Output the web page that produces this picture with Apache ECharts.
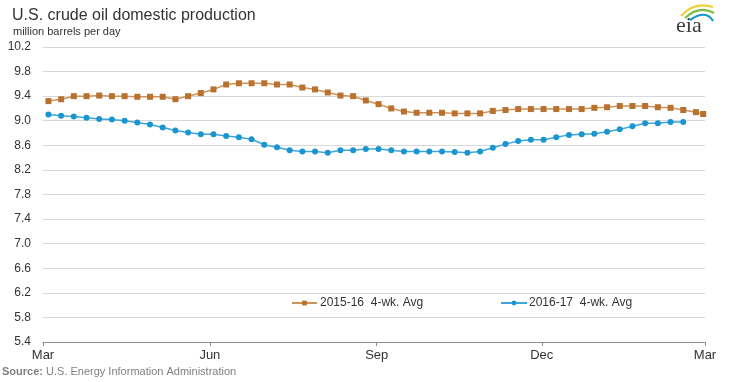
<!DOCTYPE html>
<html>
<head>
<meta charset="utf-8">
<script src="https://cdn.jsdelivr.net/npm/echarts@6/dist/echarts.min.js"></script>
<style>
html,body{margin:0;padding:0;background:#fff;}
#chart{width:735px;height:382px;}
</style>
</head>
<body>
<div id="chart"></div>
<script>
// Days since Mar 1 for each weekly observation
var weekDays = [3,10,17,24,31,38,45,52,59,66,73,80,87,94,101,108,115,122,129,136,143,150,157,164,171,178,185,192,199,206,213,220,227,234,241,248,255,262,269,276,283,290,297,304,311,318,325,332,339,346,353,360,364];
var xTickDays = [0, 92, 184, 275, 365];
var xTickLabels = ['Mar', 'Jun', 'Sep', 'Dec', 'Mar'];
var yTicks = [5.4, 5.8, 6.2, 6.6, 7.0, 7.4, 7.8, 8.2, 8.6, 9.0, 9.4, 9.8, 10.2];

var series1516 = [9.32,9.35,9.40,9.40,9.41,9.40,9.40,9.39,9.39,9.39,9.35,9.40,9.45,9.51,9.59,9.61,9.61,9.61,9.59,9.59,9.54,9.51,9.46,9.41,9.40,9.33,9.27,9.20,9.15,9.13,9.13,9.13,9.12,9.12,9.12,9.16,9.175,9.19,9.19,9.19,9.19,9.19,9.19,9.21,9.22,9.24,9.24,9.24,9.22,9.21,9.175,9.14,9.11];
var series1617 = [9.10,9.08,9.07,9.05,9.03,9.02,9.00,8.97,8.94,8.89,8.84,8.81,8.78,8.78,8.75,8.73,8.70,8.61,8.57,8.52,8.50,8.50,8.48,8.52,8.52,8.54,8.54,8.52,8.50,8.50,8.50,8.50,8.49,8.48,8.50,8.56,8.62,8.67,8.69,8.69,8.73,8.77,8.78,8.79,8.82,8.86,8.91,8.96,8.96,8.98,8.98];

var name1516 = '2015-16  4-wk. Avg';
var name1617 = '2016-17  4-wk. Avg';

function pairs(vals) {
  return vals.map(function (v, i) { return [weekDays[i], v]; });
}

var chart = echarts.init(document.getElementById('chart'), null, {renderer: 'canvas'});
var font = 'Liberation Sans, Arial, sans-serif';
var option = {
  animation: false,
  backgroundColor: '#ffffff',
  title: {
    text: 'U.S. crude oil domestic production',
    left: 7, top: 3,
    textStyle: {fontFamily: font, fontSize: 16, fontWeight: 'normal', color: '#333333'}
  },
  legend: [{
    data: [name1516],
    left: 286, top: 292,
    itemWidth: 25, itemHeight: 6, itemGap: 4,
    textStyle: {fontFamily: font, fontSize: 12, color: '#333333', padding: [0, 0, 0, -2]}
  }, {
    data: [name1617],
    left: 495, top: 292,
    itemWidth: 26, itemHeight: 6, itemGap: 4,
    textStyle: {fontFamily: font, fontSize: 12, color: '#333333', padding: [0, 0, 0, -3]}
  }],
  grid: {left: 43, right: 30, top: 47, bottom: 40, containLabel: false},
  xAxis: {
    type: 'value',
    min: 0, max: 365,
    axisLine: {show: true, lineStyle: {color: '#8c8c8c', width: 1}},
    axisTick: {show: true, length: 4, inside: false, customValues: xTickDays, lineStyle: {color: '#8c8c8c'}},
    axisLabel: {
      customValues: xTickDays,
      margin: 7,
      fontFamily: 'Liberation Sans Narrow, Liberation Sans, Arial, sans-serif',
      fontSize: 13, color: '#333333',
      formatter: function (v) { var i = xTickDays.indexOf(v); return i >= 0 ? xTickLabels[i] : ''; }
    },
    splitLine: {show: false}
  },
  yAxis: {
    type: 'value',
    min: 5.4, max: 10.2, interval: 0.4,
    axisLine: {show: false},
    axisTick: {show: false},
    axisLabel: {
      margin: 12,
      fontFamily: font, fontSize: 12, color: '#333333',
      formatter: function (v) { return v.toFixed(1); }
    },
    splitLine: {show: true, lineStyle: {color: '#d9d9d9', width: 1}}
  },
  series: [{
    name: name1516,
    type: 'line',
    data: pairs(series1516),
    symbol: 'rect',
    symbolSize: 6,
    showAllSymbol: true,
    itemStyle: {color: '#b8712e'},
    lineStyle: {color: '#cf925a', width: 1.5},
    z: 3
  }, {
    name: name1617,
    type: 'line',
    data: pairs(series1617),
    symbol: 'circle',
    symbolSize: 6,
    showAllSymbol: true,
    itemStyle: {color: '#1a95cf'},
    lineStyle: {color: '#3ea6da', width: 1.5},
    z: 4
  }],
  graphic: [
    {type: 'text', left: 13, top: 26, style: {text: 'million barrels per day', font: '11px ' + font, fill: '#333333'}},
    {type: 'text', left: 2, top: 366, style: {
      text: '{b|Source:} U.S. Energy Information Administration',
      font: '11px ' + font, fill: '#808080',
      rich: {b: {fontWeight: 'bold', fill: '#808080', fontFamily: font, fontSize: 11}}
    }},
    // eia logo
    {type: 'text', left: 676, top: 15, style: {text: 'eia', font: '22px Liberation Serif, DejaVu Serif, serif', fill: '#3a3a3a'}},
    {type: 'bezierCurve', shape: {x1: 681, y1: 16, x2: 713, y2: 7, cpx1: 694, cpy1: 1}, style: {stroke: '#f0cf3a', lineWidth: 2.2, fill: null}},
    {type: 'bezierCurve', shape: {x1: 685, y1: 18, x2: 714, y2: 13, cpx1: 699, cpy1: 5}, style: {stroke: '#7dbb42', lineWidth: 2.2, fill: null}},
    {type: 'bezierCurve', shape: {x1: 690, y1: 20, x2: 713, y2: 21, cpx1: 706, cpy1: 9}, style: {stroke: '#1a95cf', lineWidth: 2.2, fill: null}}
  ]
};
chart.setOption(option);
</script>
</body>
</html>
